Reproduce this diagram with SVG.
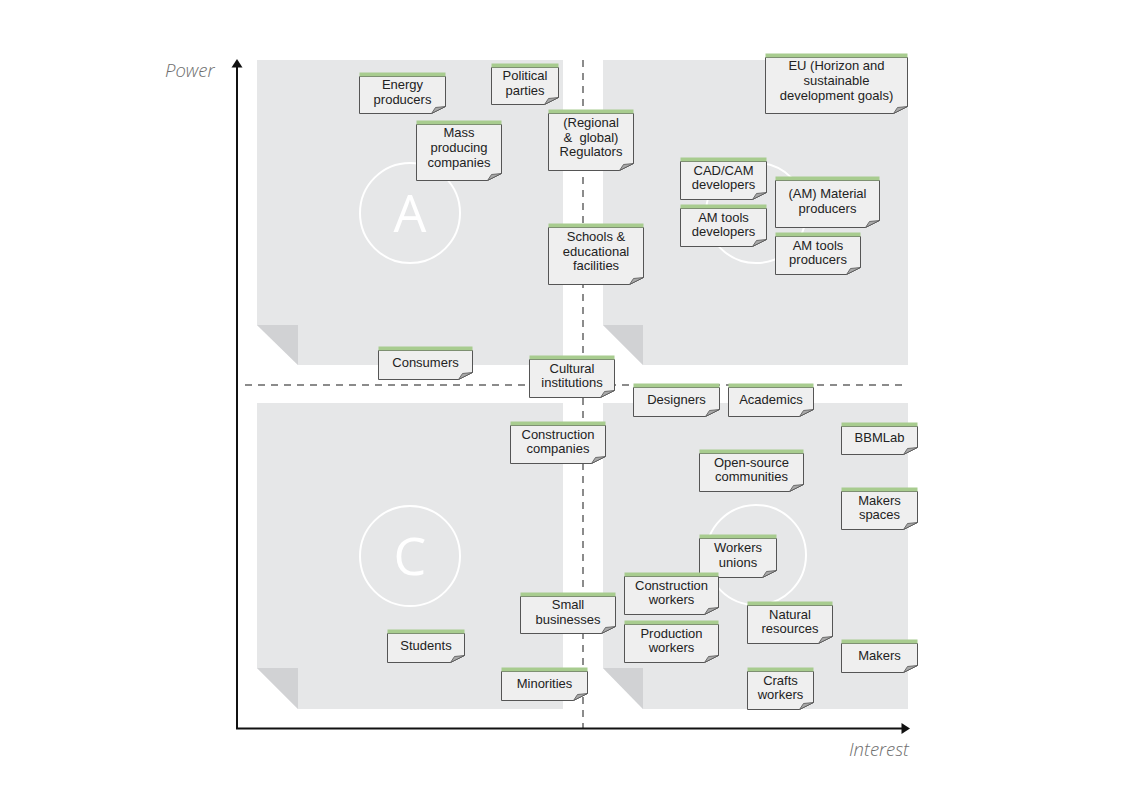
<svg xmlns="http://www.w3.org/2000/svg" width="1123" height="794" viewBox="0 0 1123 794">
<style>
.q{fill:#e6e7e8}
.fd{fill:#d1d2d4}
.fw{fill:#ffffff}
.circ{fill:none;stroke:#ffffff;stroke-width:2}
.letter{font-family:"Open Sans","Lato",sans-serif;font-weight:400;font-size:52px;fill:#ffffff;text-anchor:middle}
.nb{fill:#efefef;stroke:#555555;stroke-width:1}
.nf{fill:#a8a8a8;stroke:#555555;stroke-width:0.8;stroke-linejoin:round}
.ng{fill:#a8cc8f}
.nt{font-family:"Liberation Sans",Arial,sans-serif;font-size:13px;fill:#222222;text-anchor:middle}
.dash{fill:none;stroke:#666666;stroke-width:1.5;stroke-dasharray:7 6}
.axis{fill:none;stroke:#111111;stroke-width:2}
.arrow{fill:#111111}
.axl{font-family:"Open Sans","Lato",sans-serif;font-style:italic;font-weight:300;font-size:18.5px;fill:#6e6e6e}
</style>
<rect width="1123" height="794" fill="#ffffff"/>
<g id="quadrants">
  <g id="quadrant-A">
    <rect class="q" x="257" y="60" width="306" height="305"/>
    <polygon class="fw" points="257,325 257,365 298,365"/>
    <polygon class="fd" points="257,325 298,325 298,365"/>
    <circle class="circ" cx="410" cy="213" r="50"/>
    <text class="letter" x="410" y="231.5">A</text>
  </g>
  <g id="quadrant-B">
    <rect class="q" x="603" y="60" width="305" height="305"/>
    <polygon class="fw" points="603,325 603,365 643,365"/>
    <polygon class="fd" points="603,325 643,325 643,365"/>
    <circle class="circ" cx="756" cy="213" r="50"/>
  </g>
  <g id="quadrant-C">
    <rect class="q" x="257" y="403" width="306" height="306"/>
    <polygon class="fw" points="257,668 257,709 298,709"/>
    <polygon class="fd" points="257,668 298,668 298,709"/>
    <circle class="circ" cx="410" cy="556" r="50"/>
    <text class="letter" x="410" y="574.5">C</text>
  </g>
  <g id="quadrant-D">
    <rect class="q" x="603" y="403" width="305" height="306"/>
    <polygon class="fw" points="603,668 603,709 643,709"/>
    <polygon class="fd" points="603,668 643,668 643,709"/>
    <circle class="circ" cx="756" cy="555" r="50"/>
  </g>
</g>
<g id="connectors">
  <line class="dash" x1="583" y1="60" x2="583" y2="728"/>
  <line class="dash" x1="245" y1="385" x2="908" y2="385"/>
  <line class="axis" x1="237" y1="729" x2="237" y2="66"/>
  <polygon class="arrow" points="237,59 231.5,67.5 242.5,67.5"/>
  <line class="axis" x1="236" y1="728.5" x2="902" y2="728.5"/>
  <polygon class="arrow" points="910,728.5 901.5,723 901.5,734"/>
  <text class="axl" x="165" y="77">Power</text>
  <text class="axl" x="909" y="756" text-anchor="end">Interest</text>
</g>
<g id="notes">
  <g id="n-energy" transform="translate(359.5,72.5)">
    <path class="nb" d="M0 4H86V34L72 41H0Z"/><path class="nf" d="M72 41L76 35L86 34Z"/><rect class="ng" x="0" y="0" width="86" height="4"/>
    <text class="nt"><tspan x="43" y="16.7">Energy</tspan><tspan x="43" y="31.3">producers</tspan></text>
  </g>
  <g id="n-political" transform="translate(491.5,63.5)">
    <path class="nb" d="M0 4H67V34L53 41H0Z"/><path class="nf" d="M53 41L57 35L67 34Z"/><rect class="ng" x="0" y="0" width="67" height="4"/>
    <text class="nt"><tspan x="33.5" y="16.7">Political</tspan><tspan x="33.5" y="31.3">parties</tspan></text>
  </g>
  <g id="n-eu" transform="translate(765.5,53.5)">
    <path class="nb" d="M0 4H142V53L128 60H0Z"/><path class="nf" d="M128 60L132 54L142 53Z"/><rect class="ng" x="0" y="0" width="142" height="4"/>
    <text class="nt"><tspan x="71" y="16.9">EU (Horizon and</tspan><tspan x="71" y="31.5">sustainable</tspan><tspan x="71" y="46.1">development goals)</tspan></text>
  </g>
  <g id="n-regulators" transform="translate(548.5,109.5)">
    <path class="nb" d="M0 4H85V54L71 61H0Z"/><path class="nf" d="M71 61L75 55L85 54Z"/><rect class="ng" x="0" y="0" width="85" height="4"/>
    <text class="nt" xml:space="preserve"><tspan x="42.5" y="17.4">(Regional</tspan><tspan x="42.5" y="32">&amp;  global)</tspan><tspan x="42.5" y="46.6">Regulators</tspan></text>
  </g>
  <g id="n-mass" transform="translate(416.5,120.5)">
    <path class="nb" d="M0 4H85V53L71 60H0Z"/><path class="nf" d="M71 60L75 54L85 53Z"/><rect class="ng" x="0" y="0" width="85" height="4"/>
    <text class="nt"><tspan x="42.5" y="16.9">Mass</tspan><tspan x="42.5" y="31.5">producing</tspan><tspan x="42.5" y="46.1">companies</tspan></text>
  </g>
  <g id="n-cadcam" transform="translate(680.5,157.5)">
    <path class="nb" d="M0 4H86V35L72 42H0Z"/><path class="nf" d="M72 42L76 36L86 35Z"/><rect class="ng" x="0" y="0" width="86" height="4"/>
    <text class="nt"><tspan x="43" y="17.2">CAD/CAM</tspan><tspan x="43" y="31.8">developers</tspan></text>
  </g>
  <g id="n-material" transform="translate(775.5,176.5)">
    <path class="nb" d="M0 4H104V44L90 51H0Z"/><path class="nf" d="M90 51L94 45L104 44Z"/><rect class="ng" x="0" y="0" width="104" height="4"/>
    <text class="nt"><tspan x="52" y="21.7">(AM) Material</tspan><tspan x="52" y="36.3">producers</tspan></text>
  </g>
  <g id="n-amtooldev" transform="translate(680.5,204.5)">
    <path class="nb" d="M0 4H86V35L72 42H0Z"/><path class="nf" d="M72 42L76 36L86 35Z"/><rect class="ng" x="0" y="0" width="86" height="4"/>
    <text class="nt"><tspan x="43" y="17.2">AM tools</tspan><tspan x="43" y="31.8">developers</tspan></text>
  </g>
  <g id="n-schools" transform="translate(548.5,223.5)">
    <path class="nb" d="M0 4H95V54L81 61H0Z"/><path class="nf" d="M81 61L85 55L95 54Z"/><rect class="ng" x="0" y="0" width="95" height="4"/>
    <text class="nt"><tspan x="47.5" y="17.4">Schools &amp;</tspan><tspan x="47.5" y="32">educational</tspan><tspan x="47.5" y="46.6">facilities</tspan></text>
  </g>
  <g id="n-amtoolprod" transform="translate(775.5,232.5)">
    <path class="nb" d="M0 4H85V35L71 42H0Z"/><path class="nf" d="M71 42L75 36L85 35Z"/><rect class="ng" x="0" y="0" width="85" height="4"/>
    <text class="nt"><tspan x="42.5" y="17.2">AM tools</tspan><tspan x="42.5" y="31.8">producers</tspan></text>
  </g>
  <g id="n-consumers" transform="translate(378.5,346.5)">
    <path class="nb" d="M0 4H94V26L80 33H0Z"/><path class="nf" d="M80 33L84 27L94 26Z"/><rect class="ng" x="0" y="0" width="94" height="4"/>
    <text class="nt" x="47" y="20">Consumers</text>
  </g>
  <g id="n-cultural" transform="translate(529.5,355.5)">
    <path class="nb" d="M0 4H85V35L71 42H0Z"/><path class="nf" d="M71 42L75 36L85 35Z"/><rect class="ng" x="0" y="0" width="85" height="4"/>
    <text class="nt"><tspan x="42.5" y="17.2">Cultural</tspan><tspan x="42.5" y="31.8">institutions</tspan></text>
  </g>
  <g id="n-designers" transform="translate(633.5,383.5)">
    <path class="nb" d="M0 4H86V26L72 33H0Z"/><path class="nf" d="M72 33L76 27L86 26Z"/><rect class="ng" x="0" y="0" width="86" height="4"/>
    <text class="nt" x="43" y="20">Designers</text>
  </g>
  <g id="n-academics" transform="translate(728.5,383.5)">
    <path class="nb" d="M0 4H85V26L71 33H0Z"/><path class="nf" d="M71 33L75 27L85 26Z"/><rect class="ng" x="0" y="0" width="85" height="4"/>
    <text class="nt" x="42.5" y="20">Academics</text>
  </g>
  <g id="n-construction-companies" transform="translate(510.5,421.5)">
    <path class="nb" d="M0 4H95V35L81 42H0Z"/><path class="nf" d="M81 42L85 36L95 35Z"/><rect class="ng" x="0" y="0" width="95" height="4"/>
    <text class="nt"><tspan x="47.5" y="17.2">Construction</tspan><tspan x="47.5" y="31.8">companies</tspan></text>
  </g>
  <g id="n-bbmlab" transform="translate(841.5,422.5)">
    <path class="nb" d="M0 4H76V25L62 32H0Z"/><path class="nf" d="M62 32L66 26L76 25Z"/><rect class="ng" x="0" y="0" width="76" height="4"/>
    <text class="nt" x="38" y="19.5">BBMLab</text>
  </g>
  <g id="n-opensource" transform="translate(699.5,449.5)">
    <path class="nb" d="M0 4H104V35L90 42H0Z"/><path class="nf" d="M90 42L94 36L104 35Z"/><rect class="ng" x="0" y="0" width="104" height="4"/>
    <text class="nt"><tspan x="52" y="17.2">Open-source</tspan><tspan x="52" y="31.8">communities</tspan></text>
  </g>
  <g id="n-makerspaces" transform="translate(841.5,487.5)">
    <path class="nb" d="M0 4H76V35L62 42H0Z"/><path class="nf" d="M62 42L66 36L76 35Z"/><rect class="ng" x="0" y="0" width="76" height="4"/>
    <text class="nt"><tspan x="38" y="17.2">Makers</tspan><tspan x="38" y="31.8">spaces</tspan></text>
  </g>
  <g id="n-unions" transform="translate(699.5,534.5)">
    <path class="nb" d="M0 4H77V36L63 43H0Z"/><path class="nf" d="M63 43L67 37L77 36Z"/><rect class="ng" x="0" y="0" width="77" height="4"/>
    <text class="nt"><tspan x="38.5" y="17.7">Workers</tspan><tspan x="38.5" y="32.3">unions</tspan></text>
  </g>
  <g id="n-construction-workers" transform="translate(624.5,572.5)">
    <path class="nb" d="M0 4H94V35L80 42H0Z"/><path class="nf" d="M80 42L84 36L94 35Z"/><rect class="ng" x="0" y="0" width="94" height="4"/>
    <text class="nt"><tspan x="47" y="17.2">Construction</tspan><tspan x="47" y="31.8">workers</tspan></text>
  </g>
  <g id="n-small" transform="translate(520.5,592.5)">
    <path class="nb" d="M0 4H95V34L81 41H0Z"/><path class="nf" d="M81 41L85 35L95 34Z"/><rect class="ng" x="0" y="0" width="95" height="4"/>
    <text class="nt"><tspan x="47.5" y="16.7">Small</tspan><tspan x="47.5" y="31.3">businesses</tspan></text>
  </g>
  <g id="n-natural" transform="translate(747.5,601.5)">
    <path class="nb" d="M0 4H85V35L71 42H0Z"/><path class="nf" d="M71 42L75 36L85 35Z"/><rect class="ng" x="0" y="0" width="85" height="4"/>
    <text class="nt"><tspan x="42.5" y="17.2">Natural</tspan><tspan x="42.5" y="31.8">resources</tspan></text>
  </g>
  <g id="n-production" transform="translate(624.5,620.5)">
    <path class="nb" d="M0 4H94V35L80 42H0Z"/><path class="nf" d="M80 42L84 36L94 35Z"/><rect class="ng" x="0" y="0" width="94" height="4"/>
    <text class="nt"><tspan x="47" y="17.2">Production</tspan><tspan x="47" y="31.8">workers</tspan></text>
  </g>
  <g id="n-students" transform="translate(387.5,629.5)">
    <path class="nb" d="M0 4H77V26L63 33H0Z"/><path class="nf" d="M63 33L67 27L77 26Z"/><rect class="ng" x="0" y="0" width="77" height="4"/>
    <text class="nt" x="38.5" y="20">Students</text>
  </g>
  <g id="n-makers" transform="translate(841.5,639.5)">
    <path class="nb" d="M0 4H76V26L62 33H0Z"/><path class="nf" d="M62 33L66 27L76 26Z"/><rect class="ng" x="0" y="0" width="76" height="4"/>
    <text class="nt" x="38" y="20">Makers</text>
  </g>
  <g id="n-minorities" transform="translate(501.5,667.5)">
    <path class="nb" d="M0 4H86V26L72 33H0Z"/><path class="nf" d="M72 33L76 27L86 26Z"/><rect class="ng" x="0" y="0" width="86" height="4"/>
    <text class="nt" x="43" y="20">Minorities</text>
  </g>
  <g id="n-crafts" transform="translate(747.5,667.5)">
    <path class="nb" d="M0 4H66V35L52 42H0Z"/><path class="nf" d="M52 42L56 36L66 35Z"/><rect class="ng" x="0" y="0" width="66" height="4"/>
    <text class="nt"><tspan x="33" y="17.2">Crafts</tspan><tspan x="33" y="31.8">workers</tspan></text>
  </g>
</g>
</svg>
